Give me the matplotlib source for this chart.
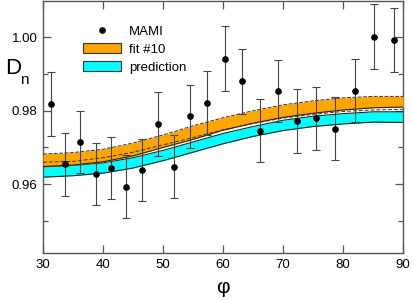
import matplotlib
matplotlib.use("Agg")
import matplotlib.pyplot as plt
from matplotlib.lines import Line2D
from matplotlib.patches import Patch
from matplotlib.ticker import MultipleLocator

plt.rcParams["font.family"] = ["Liberation Sans", "DejaVu Sans"]

# MAMI data points
phi = [31.33, 33.71, 36.21, 38.75, 41.25, 43.86, 46.47, 49.07, 51.80, 54.56,
       57.39, 60.28, 63.16, 66.16, 69.20, 72.36, 75.47, 78.69, 81.96, 85.17,
       88.45]
dn = [0.9819, 0.9654, 0.9715, 0.9628, 0.9644, 0.9593, 0.9638, 0.9764, 0.9647,
      0.9785, 0.9821, 0.9942, 0.9880, 0.9746, 0.9854, 0.9772, 0.9779, 0.9751,
      0.9855, 1.0002, 0.9993]
dn_err = [0.0087, 0.0086, 0.0085, 0.0085, 0.0085, 0.0086, 0.0085, 0.0086,
          0.0086, 0.0086, 0.0086, 0.0088, 0.0088, 0.0086, 0.0085, 0.0086,
          0.0086, 0.0086, 0.0086, 0.0088, 0.0088]

# bands every 5 degrees
band_phi = [30, 35, 40, 45, 50, 55, 60, 65, 70, 75, 80, 85, 90]
fit_hi = [0.9682, 0.9686, 0.9695, 0.9712, 0.9734, 0.9759, 0.9781, 0.9800,
          0.9816, 0.9827, 0.9835, 0.9839, 0.9839]
fit_lo = [0.9648, 0.9652, 0.9661, 0.9677, 0.9700, 0.9722, 0.9747, 0.9766,
          0.9782, 0.9793, 0.9802, 0.9808, 0.9810]
fit_dash = [0.9660, 0.9662, 0.9672, 0.9687, 0.9707, 0.9727, 0.9748, 0.9765,
            0.9780, 0.9790, 0.9798, 0.9802, 0.9804]
pred_hi = [0.9647, 0.9651, 0.9658, 0.9672, 0.9692, 0.9715, 0.9738, 0.9757,
           0.9774, 0.9785, 0.9792, 0.9797, 0.9797]
pred_lo = [0.9619, 0.9623, 0.9630, 0.9644, 0.9664, 0.9687, 0.9710, 0.9730,
           0.9746, 0.9757, 0.9764, 0.9769, 0.9768]

fig = plt.figure(figsize=(4.14, 3.0), dpi=100)
ax = fig.add_axes([0.104, 0.156, 0.870, 0.841])

ax.fill_between(band_phi, pred_lo, pred_hi, color="cyan", lw=0, zorder=1)
ax.plot(band_phi, pred_lo, color="#222222", lw=0.8, zorder=2)
ax.plot(band_phi, pred_hi, color="#222222", lw=0.8, zorder=2)
ax.fill_between(band_phi, fit_lo, fit_hi, color="orange", lw=0, zorder=3)
ax.plot(band_phi, fit_hi, color="#333333", lw=0.7, ls=(0, (4, 1.5)), zorder=4)
ax.plot(band_phi, fit_lo, color="#222222", lw=0.8, zorder=4)
ax.plot(band_phi, fit_dash, color="#333333", lw=0.7, ls=(0, (4, 2)), zorder=4)

ax.errorbar(phi, dn, yerr=dn_err, fmt="o", color="black", ms=3.8,
            ecolor="#444444", elinewidth=0.8, capsize=2.6, capthick=0.8,
            zorder=5)

ax.set_xlim(30, 90)
ax.set_ylim(0.9412, 1.0099)
ax.xaxis.set_major_locator(MultipleLocator(10))
ax.yaxis.set_major_locator(MultipleLocator(0.02))
ax.yaxis.set_minor_locator(MultipleLocator(0.01))
ax.yaxis.set_major_formatter(matplotlib.ticker.FormatStrFormatter("%.2f"))
ax.tick_params(which="both", direction="in", top=True, right=True,
               color="#555555", labelsize=9.5, pad=4)
ax.tick_params(which="major", length=6, width=0.9)
ax.tick_params(which="minor", length=3.5, width=0.9)
for s in ax.spines.values():
    s.set_color("#555555")
    s.set_linewidth(1.0)

ax.set_xlabel("\u03c6", fontsize=15, labelpad=5)
fig.text(0.012, 0.772, "D", fontsize=16, va="center", ha="left")
fig.text(0.048, 0.735, "n", fontsize=11, va="center", ha="left")

handles = [Line2D([], [], marker="o", color="black", ls="none", ms=3.8),
           Patch(facecolor="orange", edgecolor="#333333", lw=0.8),
           Patch(facecolor="cyan", edgecolor="#333333", lw=0.8)]
ax.legend(handles, ["MAMI", "fit #10", "prediction"], loc="upper left",
          bbox_to_anchor=(0.095, 0.925), frameon=False, fontsize=9.5,
          handlelength=2.9, handleheight=0.8, handletextpad=0.6,
          labelspacing=0.4, borderaxespad=0)

fig.savefig("out.png", dpi=100)
